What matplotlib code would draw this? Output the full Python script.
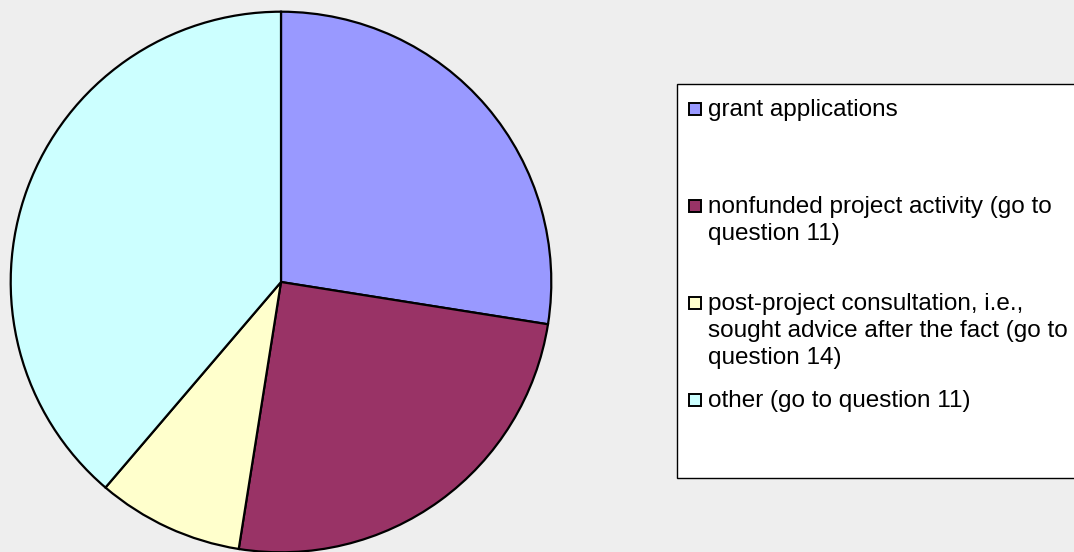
import matplotlib.pyplot as plt
from matplotlib.patches import Rectangle

labels = ["grant applications",
          "nonfunded project activity (go to\nquestion 11)",
          "post-project consultation, i.e.,\nsought advice after the fact (go to\nquestion 14)",
          "other (go to question 11)"]
counts = [22, 20, 7, 31]
colors = ['#9999FF', '#993366', '#FFFFCC', '#CCFFFF']

plt.rcParams['font.family'] = ['Liberation Sans', 'DejaVu Sans']

W, H = 1074, 552
fig = plt.figure(figsize=(W / 100, H / 100), dpi=100)
fig.patch.set_facecolor('#EEEEEE')

# pie axes: centre (281, 282) px, radius 273 px
ax = fig.add_axes([8 / W, -3 / H, 546 / W, 546 / H])
ax.pie(counts, colors=colors, startangle=90, counterclock=False, radius=1,
       wedgeprops=dict(edgecolor='black', linewidth=1.6))
ax.set_xlim(-1.01, 1.01)
ax.set_ylim(-1.01, 1.01)
ax.set_aspect('equal')
ax.axis('off')

# legend box
box = Rectangle((677 / W, (H - 478) / H), 420 / W, (478 - 84) / H,
                transform=fig.transFigure, facecolor='white',
                edgecolor='black', linewidth=1.0, clip_on=False)
fig.add_artist(box)

# legend entries: marker centre y in px from top, 97 px apart
line_h = 27
for i, (lab, col) in enumerate(zip(labels, colors)):
    yc = 109 + 97 * i
    fig.add_artist(Rectangle((689 / W, (H - yc - 6) / H), 12 / W, 12 / H,
                             transform=fig.transFigure, facecolor=col,
                             edgecolor='black', linewidth=1.4))
    for j, line in enumerate(lab.split('\n')):
        fig.text(708 / W, (H - (yc + 7 + j * line_h)) / H, line,
                 fontsize=17.5, va='baseline', ha='left')

fig.savefig('out.png', dpi=100, facecolor=fig.get_facecolor())
